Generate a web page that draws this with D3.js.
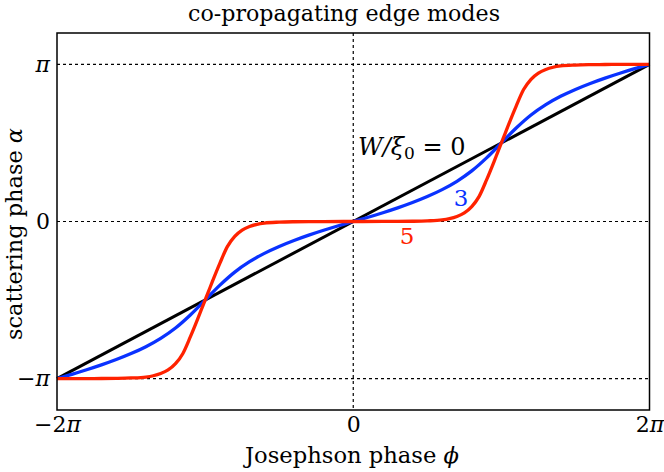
<!DOCTYPE html>
<html><head><meta charset="utf-8">
<script src="https://cdn.jsdelivr.net/npm/d3@7"></script>
<style>body{margin:0;background:#fff}svg{display:block}</style>
</head><body>
<svg id="c" width="664" height="472"></svg>
<script>
// phase values are in units of pi
const xTicks = [-2, 0, 2];
const xTickLabels = [["\u22122", "\u03c0"], ["0", ""], ["2", "\u03c0"]];
const yTicks = [-1, 0, 1];
const yTickLabels = [["\u2212", "\u03c0"], ["0", ""], ["", "\u03c0"]];

const phiBlack = [-2, 2];
const alphaBlack = [-1, 1];

const phiBlue = [-2.0,-1.9,-1.8,-1.7,-1.6,-1.5,-1.4,-1.3,-1.2,-1.1,-1.0,-0.9,-0.8,-0.7,-0.6,-0.5,-0.4,-0.3,-0.2,-0.1,0,
                 0.1,0.2,0.3,0.4,0.5,0.6,0.7,0.8,0.9,1.0,1.1,1.2,1.3,1.4,1.5,1.6,1.7,1.8,1.9,2.0];
const alphaBlue = [-1,-0.973,-0.944,-0.913,-0.879,-0.841,-0.797,-0.744,-0.678,-0.595,-0.5,-0.405,-0.322,-0.256,-0.203,-0.159,-0.121,-0.087,-0.056,-0.027,0,
                   0.027,0.056,0.087,0.121,0.159,0.203,0.256,0.322,0.405,0.5,0.595,0.678,0.744,0.797,0.841,0.879,0.913,0.944,0.973,1];

const phiRed = [-2.0,-1.8,-1.7,-1.6,-1.5,-1.4,-1.35,-1.3,-1.25,-1.2,-1.15,-1.1,-1.05,-1.025,-1.0,-0.975,-0.95,-0.9,-0.85,-0.8,-0.75,-0.7,-0.65,-0.6,-0.5,-0.4,-0.3,-0.2,0,
                0.2,0.3,0.4,0.5,0.6,0.65,0.7,0.75,0.8,0.85,0.9,0.95,0.975,1.0,1.025,1.05,1.1,1.15,1.2,1.25,1.3,1.35,1.4,1.5,1.6,1.7,1.8,2.0];
const alphaRed = [-1,-0.9998,-0.9995,-0.9985,-0.996,-0.99,-0.982,-0.968,-0.945,-0.905,-0.84,-0.735,-0.62,-0.56,-0.5,-0.44,-0.38,-0.265,-0.16,-0.095,-0.055,-0.032,-0.018,-0.010,-0.004,-0.0015,-0.0005,-0.0002,0,
                  0.0002,0.0005,0.0015,0.004,0.010,0.018,0.032,0.055,0.095,0.16,0.265,0.38,0.44,0.5,0.56,0.62,0.735,0.84,0.905,0.945,0.968,0.982,0.99,0.996,0.9985,0.9995,0.9998,1];

const svg = d3.select("#c");
const L = 57, R = 649.5, T = 33, B = 410;
const x = d3.scaleLinear().domain([-2, 2]).range([L, R]);
const y = d3.scaleLinear().domain([-1.2, 1.2]).range([B, T]);
const serif = "'DejaVu Serif', serif";

// grid (dashed)
const grid = svg.append("g").attr("stroke", "#000").attr("stroke-width", 1.2).attr("stroke-dasharray", "3,3");
yTicks.forEach(v => grid.append("line").attr("x1", L).attr("x2", R).attr("y1", y(v)).attr("y2", y(v)));
grid.append("line").attr("x1", x(0)).attr("x2", x(0)).attr("y1", T).attr("y2", B);

// axes (labels only, math-style with italic pi)
function mathLabel(sel, parts) {
  sel.text(null);
  sel.append("tspan").text(parts[0]);
  if (parts[1]) sel.append("tspan").attr("font-style", "italic").text(parts[1]);
}
const xAxis = d3.axisBottom(x).tickValues(xTicks).tickFormat(() => "").tickSize(0).tickPadding(6);
const gx = svg.append("g").attr("transform", `translate(0,${B})`).call(xAxis);
const yAxis = d3.axisLeft(y).tickValues(yTicks).tickFormat(() => "").tickSize(0).tickPadding(7);
const gy = svg.append("g").attr("transform", `translate(${L},0)`).call(yAxis);
[gx, gy].forEach(g => {
  g.select(".domain").remove();
  g.selectAll("text").attr("font-family", serif).attr("font-size", 22).attr("fill", "#000");
});
gx.selectAll(".tick text").each(function(d, i) { mathLabel(d3.select(this), xTickLabels[i]); });
gy.selectAll(".tick text").each(function(d, i) { mathLabel(d3.select(this), yTickLabels[i]); });

// curves
const line = d3.line().x(d => x(d[0])).y(d => y(d[1])).curve(d3.curveMonotoneX);
const series = [
  {phi: phiBlack, alpha: alphaBlack, color: "#000000", w: 3},
  {phi: phiBlue, alpha: alphaBlue, color: "#0a32ff", w: 3.3},
  {phi: phiRed, alpha: alphaRed, color: "#ff2200", w: 3.3}
];
series.forEach(s => {
  svg.append("path").datum(s.phi.map((p, i) => [p, s.alpha[i]]))
    .attr("d", line).attr("fill", "none").attr("stroke", s.color).attr("stroke-width", s.w);
});

// frame
svg.append("rect").attr("x", L).attr("y", T).attr("width", R - L).attr("height", B - T)
  .attr("fill", "none").attr("stroke", "#000").attr("stroke-width", 1.5);

// title & labels
svg.append("text").attr("x", 344).attr("y", 21).attr("text-anchor", "middle")
  .attr("font-family", serif).attr("font-size", 22)
  .attr("textLength", 312).attr("lengthAdjust", "spacingAndGlyphs").text("co-propagating edge modes");
const xl = svg.append("text").attr("x", 352).attr("y", 463).attr("text-anchor", "middle")
  .attr("font-family", serif).attr("font-size", 22)
  .attr("textLength", 214).attr("lengthAdjust", "spacingAndGlyphs");
xl.append("tspan").text("Josephson phase ");
xl.append("tspan").attr("font-style", "italic").text("\u03d5");
const yl = svg.append("text").attr("transform", `translate(22,234) rotate(-90)`).attr("text-anchor", "middle")
  .attr("font-family", serif).attr("font-size", 22)
  .attr("textLength", 212).attr("lengthAdjust", "spacingAndGlyphs");
yl.append("tspan").text("scattering phase ");
yl.append("tspan").attr("font-style", "italic").text("\u03b1");

// curve annotations
const wl = svg.append("text").attr("x", 358).attr("y", 155).attr("font-family", serif).attr("font-size", 24).attr("fill", "#000");
wl.append("tspan").attr("font-style", "italic").text("W");
wl.append("tspan").attr("font-style", "italic").text("/");
wl.append("tspan").attr("font-style", "italic").text("\u03be");
wl.append("tspan").attr("font-size", 17).attr("dy", 4).text("0");
wl.append("tspan").attr("dy", -4).text(" = 0");
svg.append("text").attr("x", 461).attr("y", 206).attr("text-anchor", "middle").attr("font-family", serif)
  .attr("font-size", 23).attr("fill", "#0a32ff").text("3");
svg.append("text").attr("x", 407).attr("y", 244).attr("text-anchor", "middle").attr("font-family", serif)
  .attr("font-size", 23).attr("fill", "#ff2200").text("5");
</script>
</body></html>
